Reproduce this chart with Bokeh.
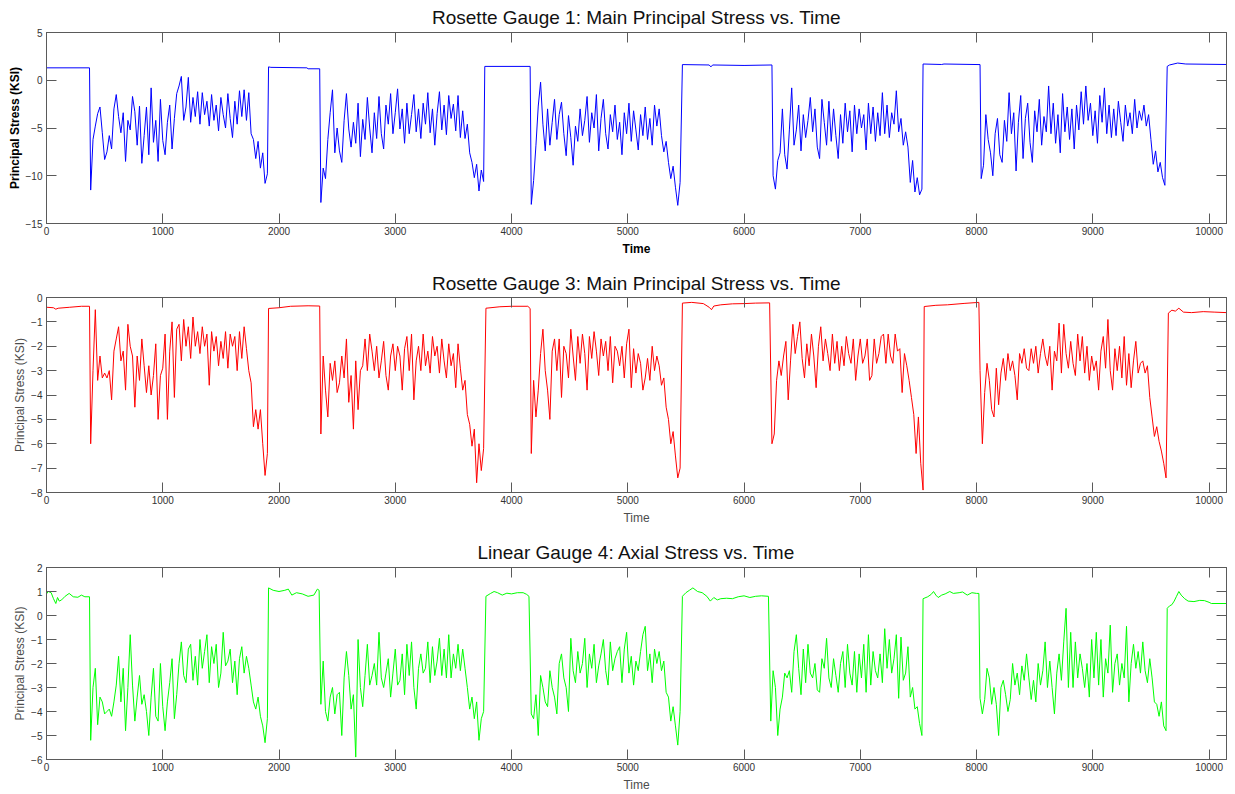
import numpy as np
from bokeh.plotting import figure
from bokeh.models import LinearAxis, FixedTicker, Range1d
from bokeh.layouts import column
from bokeh.embed import file_html
from bokeh.resources import INLINE

STEP = 20          # sampling interval of the active (loaded) stretches
TIME_MAX = 10150
x_ticks = [0, 1000, 2000, 3000, 4000, 5000, 6000, 7000, 8000, 9000, 10000]

# ---------------- Rosette Gauge 1 (blue) ----------------
g1_hold = [(0, 1.3), (370, 1.3), (1910, 1.4), (1930, 1.35), (2240, 1.3), (2250, 1.2), (2350, 1.2),
           (3770, 1.45), (4160, 1.45), (5470, 1.64), (5700, 1.6), (5715, 1.4), (5730, 1.6),
           (6000, 1.55), (6240, 1.6), (7540, 1.7), (7700, 1.65), (7720, 1.7), (8030, 1.64),
           (9640, 1.45), (9660, 1.6), (9730, 1.8), (9800, 1.7), (10150, 1.65)]
g1_run_starts = [380, 2360, 4170, 6250, 8040]
g1_run_1 = [-11.5, -6.2, -4.8, -3.5, -2.8, -5.5, -8.3, -7.5, -5.8, -7.2,
            -3.0, -1.5, -3.8, -5.5, -3.4, -8.5, -4.2, -5.2, -1.7, -3.3,
            -6.8, -2.7, -8.7, -5.8, -2.8, -7.8, -0.8, -6.5, -4.2, -8.5,
            -2.0, -6.3, -7.8, -4.4, -2.6, -7.2, -4.0, -1.4, -0.6, 0.4,
            -4.2, -2.8, 0.3, -4.4, -1.8, -3.8, -1.2, -4.6, -1.3, -3.6,
            -2.2, -4.8, -1.5, -4.2, -2.6, -5.3, -1.8, -3.6, -5.0, -1.4,
            -4.0, -6.0, -2.2, -4.6, -1.1, -3.8, -1.0, -4.2, -1.3, -5.6,
            -6.2, -8.2, -6.4, -9.2, -7.6, -10.8, -9.8]
g1_run_2 = [-12.8, -9.2, -10.3, -6.2, -3.4, -1.0, -7.6, -5.0, -7.4, -8.6,
            -4.2, -1.4, -5.1, -7.0, -4.4, -6.6, -2.4, -8.0, -4.1, -6.2,
            -1.8, -5.0, -7.6, -3.4, -6.1, -1.7, -5.6, -7.2, -2.6, -4.6,
            -1.4, -5.6, -3.4, -0.9, -5.1, -3.0, -6.6, -2.4, -5.6, -3.6,
            -1.5, -5.4, -3.0, -6.1, -2.4, -4.6, -1.3, -5.5, -3.0, -6.8,
            -3.5, -1.2, -5.2, -2.6, -5.7, -1.6, -4.0, -2.5, -5.3, -1.6,
            -6.0, -3.2, -6.1, -4.6, -7.6, -8.6, -10.2, -8.8, -11.6, -9.4,
            -10.6]
g1_run_3 = [-13.0, -10.5, -6.8, -2.7, -0.2, -4.6, -7.4, -3.0, -6.8, -4.4,
            -2.0, -6.2, -3.6, -2.3, -5.6, -7.9, -3.7, -6.0, -8.9, -4.8,
            -6.4, -3.0, -5.8, -4.2, -1.7, -6.5, -3.4, -5.0, -1.5, -7.4,
            -4.0, -2.0, -5.6, -7.2, -3.6, -5.4, -2.6, -6.2, -4.4, -7.8,
            -3.4, -5.6, -2.4, -6.4, -3.2, -5.2, -7.3, -3.6, -5.8, -2.8,
            -6.2, -4.0, -6.8, -2.6, -4.8, -3.0, -5.8, -7.5, -6.4, -8.6,
            -10.3, -9.0, -11.2, -13.1, -10.7]
g1_run_4 = [-10.0, -11.4, -8.4, -7.6, -3.0, -7.8, -9.3, -5.2, -0.8, -6.8,
            -5.2, -2.6, -7.4, -3.6, -6.0, -4.2, -1.8, -5.4, -3.0, -7.0,
            -8.2, -2.0, -4.4, -6.8, -2.2, -6.4, -3.0, -5.8, -8.2, -3.6,
            -6.6, -2.4, -5.4, -3.2, -7.5, -2.6, -5.6, -3.0, -5.0, -3.6,
            -7.3, -2.4, -5.6, -2.8, -6.4, -3.4, -5.8, -1.3, -5.6, -2.6,
            -6.0, -3.4, -4.6, -1.1, -5.4, -4.0, -6.8, -5.4, -7.0, -10.7,
            -8.4, -11.7, -10.2, -12.0, -11.4]
g1_run_5 = [-10.3, -8.9, -3.6, -6.2, -7.6, -10.0, -5.6, -4.0, -7.8, -8.6,
            -4.2, -6.4, -1.3, -5.6, -3.4, -9.5, -4.4, -1.6, -8.2, -4.0,
            -2.4, -6.5, -8.6, -3.2, -5.4, -2.0, -6.8, -3.8, -5.4, -0.6,
            -5.6, -2.4, -6.6, -3.6, -7.6, -1.4, -5.4, -2.8, -6.2, -3.0,
            -7.2, -2.6, -5.2, -1.2, -4.6, -0.6, -4.2, -2.4, -5.8, -3.2,
            -6.6, -1.6, -4.4, -0.8, -5.6, -2.6, -6.0, -3.0, -5.8, -2.2,
            -4.4, -6.4, -2.6, -4.8, -3.4, -5.6, -2.0, -5.0, -3.2, -4.2,
            -2.6, -4.8, -3.6, -6.2, -8.8, -7.4, -9.6, -8.6, -10.2, -11.0]

# ---------------- Rosette Gauge 3 (red) ----------------
g3_hold = [(0, -0.4), (60, -0.42), (80, -0.48), (100, -0.44), (200, -0.4), (300, -0.36), (370, -0.36),
           (1910, -0.45), (2000, -0.42), (2100, -0.36), (2250, -0.34), (2350, -0.35),
           (3780, -0.44), (3900, -0.38), (4000, -0.36), (4140, -0.36), (4160, -0.45),
           (5470, -0.23), (5550, -0.2), (5650, -0.25), (5700, -0.4), (5720, -0.5), (5740, -0.35),
           (5800, -0.3), (5900, -0.26), (6000, -0.25), (6100, -0.23), (6220, -0.22),
           (7550, -0.37), (7650, -0.32), (7750, -0.3), (7900, -0.24), (8020, -0.2),
           (9650, -0.64), (9680, -0.52), (9710, -0.56), (9740, -0.44), (9780, -0.6),
           (9850, -0.62), (9950, -0.58), (10050, -0.6), (10150, -0.62)]
g3_run_starts = [380, 2360, 4170, 6240, 8030]
g3_run_1 = [-6.0, -3.0, -0.5, -3.4, -2.4, -3.3, -3.1, -3.3, -3.0, -4.2,
            -2.2, -1.7, -1.2, -2.6, -2.2, -3.8, -1.1, -2.0, -2.4, -4.5,
            -2.4, -3.4, -1.7, -2.8, -3.9, -2.8, -4.0, -3.2, -1.9, -5.0,
            -3.2, -2.9, -1.5, -5.0, -2.2, -1.0, -4.1, -1.3, -1.1, -2.6,
            -0.9, -2.0, -1.2, -2.5, -0.8, -2.0, -1.4, -2.3, -1.2, -2.0,
            -1.5, -3.6, -1.4, -2.2, -1.6, -2.8, -1.8, -2.5, -1.4, -2.9,
            -1.5, -2.0, -1.6, -3.0, -1.4, -2.5, -1.2, -2.1, -3.0, -3.5,
            -5.3, -4.6, -5.4, -4.6, -6.0, -7.3, -6.4]
g3_run_2 = [-5.6, -2.4, -3.8, -4.9, -2.7, -3.4, -2.6, -3.9, -3.5, -2.4,
            -3.3, -1.7, -4.3, -3.2, -5.4, -2.6, -4.6, -3.0, -2.8, -1.7,
            -3.0, -1.5, -2.2, -3.0, -2.0, -3.3, -2.6, -1.8, -3.2, -3.8,
            -2.4, -1.9, -3.0, -2.0, -2.4, -3.8, -2.1, -1.6, -3.0, -1.5,
            -4.2, -2.6, -2.0, -3.0, -1.5, -2.8, -2.2, -3.1, -1.6, -2.4,
            -2.0, -3.1, -1.7, -2.6, -3.3, -1.9, -2.8, -2.3, -3.7, -1.9,
            -2.9, -3.8, -3.4, -4.8, -5.2, -6.1, -5.4, -7.6, -6.0, -7.1,
            -6.2]
g3_run_3 = [-6.4, -3.4, -4.9, -3.8, -2.3, -1.3, -3.0, -3.8, -5.0, -2.2,
            -1.7, -3.0, -1.7, -4.1, -2.0, -2.3, -3.3, -1.3, -2.4, -3.4,
            -1.6, -2.7, -1.5, -2.3, -3.8, -1.6, -2.5, -1.4, -2.2, -3.2,
            -1.7, -2.4, -1.8, -3.0, -1.6, -3.5, -2.0, -2.2, -2.8, -2.0,
            -3.3, -1.9, -1.3, -3.7, -2.1, -3.1, -2.3, -2.7, -3.8, -3.3,
            -2.5, -3.4, -2.0, -3.0, -2.4, -2.8, -3.6, -3.3, -4.5, -5.0,
            -6.0, -5.5, -6.5, -7.4, -7.0]
g3_run_4 = [-6.0, -5.6, -3.4, -2.6, -3.2, -2.4, -1.8, -4.2, -2.6, -1.1,
            -2.3, -1.6, -1.0, -2.5, -3.3, -1.9, -2.8, -1.5, -2.4, -3.7,
            -2.0, -1.2, -2.6, -1.7, -2.3, -3.0, -1.5, -2.7, -1.8, -3.0,
            -2.0, -2.8, -1.6, -2.3, -2.7, -1.7, -3.4, -2.4, -1.7, -2.7,
            -2.4, -1.7, -3.4, -3.2, -1.7, -2.7, -2.3, -1.6, -1.5, -2.7,
            -1.5, -2.4, -2.7, -1.5, -2.2, -2.1, -3.9, -2.3, -2.8, -3.4,
            -4.1, -4.8, -6.4, -4.9, -6.8, -7.9]
g3_run_5 = [-3.0, -6.0, -3.9, -2.7, -3.4, -4.6, -4.9, -2.9, -4.4, -3.1,
            -2.5, -3.4, -2.3, -3.0, -2.6, -3.2, -4.2, -2.3, -2.7, -2.1,
            -2.9, -3.0, -2.1, -2.7, -2.0, -3.1, -2.3, -1.7, -2.4, -2.8,
            -2.0, -3.8, -2.2, -2.6, -1.05, -3.1, -1.1, -2.3, -2.9, -1.8,
            -2.7, -3.2, -1.5, -2.6, -1.6, -3.1, -2.0, -3.4, -2.4, -3.0,
            -2.6, -3.8, -2.2, -1.6, -2.9, -0.9, -3.0, -3.8, -2.1, -3.0,
            -2.0, -3.3, -1.6, -3.6, -2.3, -3.7, -2.6, -1.8, -3.1, -2.7,
            -2.6, -3.1, -2.8, -4.1, -4.9, -5.7, -5.3, -5.9, -6.3, -6.8,
            -7.4]

# ---------------- Linear Gauge 4 (green) ----------------
g4_hold = [(0, 0.9), (15, 1.0), (40, 0.95), (60, 0.7), (80, 0.5), (95, 0.75), (110, 0.6), (130, 0.65),
           (160, 0.8), (195, 0.92), (230, 0.78), (270, 0.76), (300, 0.85), (330, 0.78), (370, 0.78),
           (1910, 1.15), (1950, 1.05), (2000, 1.0), (2050, 1.05), (2080, 1.1), (2110, 0.85),
           (2150, 0.95), (2200, 0.9), (2250, 0.8), (2300, 0.85), (2330, 1.1), (2345, 1.05),
           (3780, 0.8), (3820, 0.92), (3850, 1.0), (3880, 0.95), (3920, 0.85), (3960, 0.93),
           (4000, 0.9), (4050, 0.95), (4100, 0.95), (4130, 0.88), (4150, 0.8),
           (5470, 0.8), (5500, 0.95), (5530, 1.05), (5560, 1.15), (5600, 1.0), (5640, 0.95),
           (5680, 0.8), (5710, 0.6), (5740, 0.75), (5770, 0.65), (5800, 0.7), (5850, 0.72),
           (5900, 0.7), (5950, 0.78), (6000, 0.82), (6050, 0.75), (6100, 0.8), (6150, 0.82), (6210, 0.8),
           (7540, 0.7), (7580, 0.78), (7610, 0.88), (7630, 1.0), (7650, 0.85), (7670, 0.75),
           (7700, 0.85), (7730, 0.9), (7770, 1.0), (7800, 0.92), (7850, 0.95), (7880, 0.98),
           (7920, 0.85), (7960, 0.95), (8000, 0.92), (8020, 0.92),
           (9640, 0.3), (9660, 0.4), (9680, 0.45), (9700, 0.6), (9720, 0.8), (9740, 1.0),
           (9760, 0.85), (9790, 0.7), (9820, 0.6), (9870, 0.58), (9920, 0.63), (9960, 0.62),
           (10000, 0.55), (10020, 0.5), (10150, 0.5)]
g4_run_starts = [380, 2360, 4170, 6230, 8030]
g4_run_1 = [-5.2, -3.0, -2.2, -4.55, -3.4, -3.6, -4.1, -4.0, -3.9, -4.2,
            -3.6, -2.9, -1.7, -3.6, -2.2, -4.8, -3.0, -0.8, -2.9, -4.4,
            -3.4, -2.5, -3.7, -3.3, -4.0, -5.0, -3.4, -2.2, -4.2, -4.4,
            -2.0, -3.8, -4.8, -3.6, -2.8, -1.8, -4.3, -3.3, -2.0, -1.1,
            -2.5, -2.8, -1.4, -1.2, -2.7, -1.7, -2.9, -1.0, -2.2, -1.5,
            -0.8, -2.8, -1.3, -2.0, -1.2, -3.0, -2.4, -0.7, -2.1, -1.9,
            -1.4, -2.8, -1.9, -3.3, -1.8, -1.3, -2.4, -1.7, -2.2, -2.9,
            -3.6, -3.9, -3.4, -4.2, -4.6, -5.3, -4.3]
g4_run_2 = [-3.7, -1.9, -4.0, -4.4, -3.4, -3.0, -4.1, -3.3, -3.2, -5.0,
            -2.6, -1.5, -2.5, -3.9, -3.3, -5.9, -1.0, -3.0, -3.8, -2.5,
            -1.2, -2.9, -2.5, -2.0, -2.9, -0.7, -2.6, -3.0, -2.4, -1.8,
            -3.4, -2.4, -1.4, -2.9, -2.7, -1.6, -3.3, -1.2, -2.5, -1.1,
            -3.0, -3.9, -2.2, -1.6, -2.4, -2.2, -1.1, -2.8, -1.3, -2.5,
            -1.9, -0.95, -2.5, -1.4, -2.6, -0.8, -2.6, -1.6, -2.2, -1.2,
            -2.3, -1.4, -2.2, -3.0, -3.9, -3.4, -4.3, -3.6, -5.2, -4.3,
            -4.0]
g4_run_3 = [-4.1, -4.3, -3.3, -5.0, -2.5, -3.0, -3.6, -3.8, -2.3, -3.0,
            -3.4, -4.1, -2.0, -1.6, -2.6, -3.0, -4.0, -0.95, -2.3, -2.8,
            -1.5, -2.4, -2.0, -0.95, -3.0, -1.6, -2.2, -1.2, -2.8, -2.1,
            -1.6, -1.0, -2.3, -2.9, -1.1, -2.3, -1.8, -1.5, -1.3, -2.8,
            -1.4, -0.7, -2.4, -1.7, -2.9, -1.9, -2.3, -1.5, -0.8, -0.45,
            -2.3, -1.6, -2.8, -1.4, -2.0, -1.5, -2.3, -1.9, -3.2, -3.4,
            -4.4, -3.8, -4.6, -5.4, -4.0]
g4_run_4 = [-4.4, -2.3, -3.0, -5.0, -3.9, -3.4, -2.4, -2.6, -2.3, -3.2,
            -1.5, -0.8, -2.2, -3.3, -1.4, -2.8, -1.2, -2.4, -2.6, -2.0,
            -3.1, -3.2, -1.8, -2.2, -0.95, -2.6, -3.0, -1.8, -2.5, -3.2,
            -2.0, -1.5, -3.0, -1.2, -2.4, -2.9, -1.5, -3.2, -1.6, -2.6,
            -1.2, -3.2, -0.8, -2.9, -1.5, -2.3, -2.6, -1.6, -2.8, -0.55,
            -2.2, -1.0, -2.4, -1.8, -0.8, -3.45, -0.9, -2.7, -2.4, -1.3,
            -3.4, -3.0, -3.9, -3.8, -4.5, -5.0]
g4_run_5 = [-3.45, -4.1, -3.5, -2.2, -2.6, -3.7, -3.0, -3.7, -5.0, -3.0,
            -2.7, -3.3, -4.0, -3.5, -2.0, -2.9, -2.4, -3.3, -2.1, -2.7,
            -1.6, -2.6, -3.5, -2.7, -3.6, -2.0, -2.9, -2.3, -1.1, -3.0,
            -1.9, -3.0, -4.1, -2.4, -1.6, -2.7, -1.1, 0.3, -3.0, -0.7,
            -3.0, -1.1, -2.6, -1.6, -2.2, -3.0, -2.0, -3.4, -1.0, -2.6,
            -0.7, -2.9, -1.0, -3.4, -1.8, -2.4, -0.4, -3.2, -2.0, -1.6,
            -2.9, -2.0, -2.6, -0.45, -3.6, -2.0, -1.2, -2.2, -1.5, -2.4,
            -1.1, -2.3, -2.8, -1.8, -2.6, -3.6, -3.7, -4.2, -3.6, -4.6,
            -4.8]


def build_series(hold, starts, runs):
    t = [h[0] for h in hold]
    v = [h[1] for h in hold]
    for s, r in zip(starts, runs):
        t += [s + STEP * i for i in range(len(r))]
        v += list(r)
    order = np.argsort(np.array(t), kind="stable")
    return np.array(t, dtype=float)[order], np.array(v, dtype=float)[order]


g1_t, g1_v = build_series(g1_hold, g1_run_starts, [g1_run_1, g1_run_2, g1_run_3, g1_run_4, g1_run_5])
g3_t, g3_v = build_series(g3_hold, g3_run_starts, [g3_run_1, g3_run_2, g3_run_3, g3_run_4, g3_run_5])
g4_t, g4_v = build_series(g4_hold, g4_run_starts, [g4_run_1, g4_run_2, g4_run_3, g4_run_4, g4_run_5])

FONT = "Liberation Sans"
AX = "#5a5a5a"


def style_axis(ax, show_labels, standoff):
    ax.axis_line_color = AX
    ax.major_tick_line_color = AX
    ax.major_tick_in = 10
    ax.major_tick_out = 0
    ax.minor_tick_line_color = None
    ax.major_label_text_font = FONT
    if show_labels:
        ax.major_label_text_font_size = "10px"
        ax.major_label_text_color = "#333333"
        ax.major_label_standoff = standoff
    else:
        ax.major_label_text_font_size = "1px"
        ax.major_label_text_color = None
        ax.major_label_text_alpha = 0
        ax.major_label_standoff = 0


def make_fig(title, t, v, color, yr, y_ticks, bold, height, b_top, b_bottom, t_standoff, lab_color):
    p = figure(width=1227, height=height, x_range=Range1d(0, TIME_MAX),
               y_range=Range1d(*yr), output_backend="svg", toolbar_location=None,
               tools="", min_border_left=46, min_border_right=1,
               min_border_top=b_top, min_border_bottom=b_bottom)
    p.line(t, v, line_color=color, line_width=1)
    p.title.text = title
    p.title.align = "center"
    p.title.text_font = FONT
    p.title.text_font_size = "19px"
    p.title.text_font_style = "normal"
    p.title.text_color = "#111111"
    p.title.standoff = t_standoff
    p.grid.visible = False
    p.outline_line_color = AX
    p.background_fill_color = "white"
    p.border_fill_color = "white"

    p.xaxis.ticker = FixedTicker(ticks=x_ticks)
    p.yaxis.ticker = FixedTicker(ticks=y_ticks)
    style_axis(p.xaxis[0], True, 3)
    style_axis(p.yaxis[0], True, 4)
    for ax in p.xaxis + p.yaxis:
        ax.axis_label_text_font = FONT
        ax.axis_label_text_font_size = "12px"
        ax.axis_label_text_font_style = "bold" if bold else "normal"
        ax.axis_label_text_color = lab_color
    p.xaxis.axis_label_standoff = 4
    p.yaxis.axis_label_standoff = 1
    p.xaxis.axis_label = "Time"
    p.yaxis.axis_label = "Principal Stress (KSI)"

    top = LinearAxis(ticker=FixedTicker(ticks=x_ticks))
    right = LinearAxis(ticker=FixedTicker(ticks=y_ticks))
    for ax in (top, right):
        style_axis(ax, False, 0)
    p.add_layout(top, "above")
    p.add_layout(right, "right")
    return p


p1 = make_fig("Rosette Gauge 1: Main Principal Stress vs. Time", g1_t, g1_v, "#0000ff",
              (-15, 5), [-15, -10, -5, 0, 5], True, 263, 32, 40, 9, "#000000")
p2 = make_fig("Rosette Gauge 3: Main Principal Stress vs. Time", g3_t, g3_v, "#ff0000",
              (-8, 0), [-8, -7, -6, -5, -4, -3, -2, -1, 0], False, 267, 34, 38, 8, "#4d4d4d")
p3 = make_fig("Linear Gauge 4: Axial Stress vs. Time", g4_t, g4_v, "#00ff00",
              (-6, 2), [-6, -5, -4, -3, -2, -1, 0, 1, 2], False, 264, 37, 34, 10, "#4d4d4d")

layout = column(p1, p2, p3, spacing=0)
open("out.html", "w").write(file_html(layout, INLINE))
